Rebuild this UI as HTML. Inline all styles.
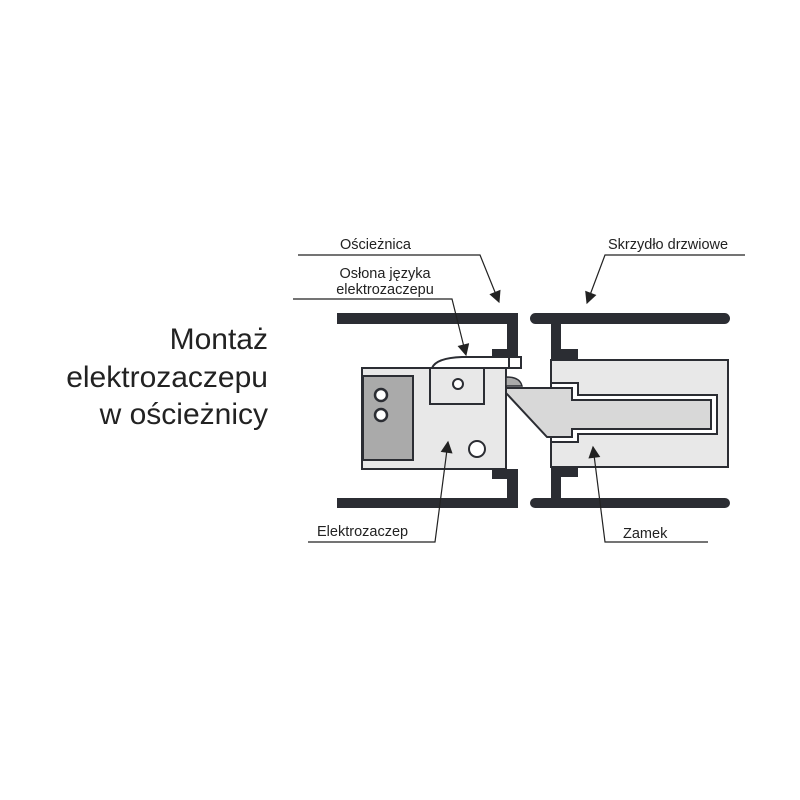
<!DOCTYPE html>
<html><head><meta charset="utf-8"><style>
html,body{margin:0;padding:0;background:#fff;width:800px;height:800px;overflow:hidden}
text{font-family:"Liberation Sans",sans-serif;fill:#222}
</style></head><body>
<svg width="800" height="800" viewBox="0 0 800 800" xmlns="http://www.w3.org/2000/svg">
<defs>
<marker id="b" viewBox="0 0 10 10" refX="9" refY="5" markerWidth="14" markerHeight="12" orient="auto" markerUnits="userSpaceOnUse"><path d="M0,0 L10,5 L0,10 z" fill="#222"/></marker></defs>
<g font-size="30" text-anchor="end" style="fill:#333">
<text x="268" y="349">Montaż</text>
<text x="268" y="387">elektrozaczepu</text>
<text x="268" y="424">w ościeżnicy</text>
</g>
<g font-size="14.5">
<text x="340" y="249">Ościeżnica</text>
<text x="608" y="249">Skrzydło drzwiowe</text>
<text x="385" y="278" text-anchor="middle">Osłona języka</text>
<text x="385" y="294" text-anchor="middle">elektrozaczepu</text>
<text x="317" y="536">Elektrozaczep</text>
<text x="623" y="538">Zamek</text>
</g>
<g fill="#2b2d33">
<rect x="337" y="313" width="181" height="11"/>
<rect x="507" y="313" width="11" height="46"/>
<rect x="492" y="349" width="15" height="9"/>
<rect x="337" y="498" width="181" height="10"/>
<rect x="507" y="469" width="11" height="39"/>
<rect x="492" y="469" width="15" height="10"/>
</g>
<path d="M432,368 Q436,358 462,357 L521,357 L521,368 Z" fill="#fff" stroke="#2b2d33" stroke-width="2"/>
<line x1="509" y1="357" x2="509" y2="368" stroke="#2b2d33" stroke-width="2"/>
<rect x="362" y="368" width="144" height="101" fill="#e8e8e8" stroke="#2b2d33" stroke-width="2"/>
<rect x="363" y="376" width="50" height="84" fill="#aaa" stroke="#2b2d33" stroke-width="2"/>
<circle cx="381" cy="395" r="6" fill="#fff" stroke="#2b2d33" stroke-width="2.5"/>
<circle cx="381" cy="415" r="6" fill="#fff" stroke="#2b2d33" stroke-width="2.5"/>
<rect x="430" y="368" width="54" height="36" fill="#e8e8e8" stroke="#2b2d33" stroke-width="2"/>
<circle cx="458" cy="384" r="5" fill="#fff" stroke="#2b2d33" stroke-width="2"/>
<circle cx="477" cy="449" r="8" fill="#fff" stroke="#2b2d33" stroke-width="2"/>
<path d="M506,386 L506,377 Q520,377 522,386 Z" fill="#aaa" stroke="#2b2d33" stroke-width="1.5"/>
<g fill="#2b2d33">
<rect x="530" y="313" width="200" height="11" rx="5.5"/>
<rect x="551" y="313" width="10" height="48"/>
<rect x="561" y="349" width="17" height="11"/>
<rect x="530" y="498" width="200" height="10" rx="5"/>
<rect x="551" y="466" width="10" height="40"/>
<rect x="561" y="466" width="17" height="11"/>
</g>
<rect x="551" y="360" width="177" height="107" fill="#e8e8e8" stroke="#2b2d33" stroke-width="2"/>
<path d="M551,383 L578,383 L578,395 L717,395 L717,434 L578,434 L578,442 L551,442 Z" fill="#fff" stroke="#2b2d33" stroke-width="2"/>
<path d="M506,388 L572,388 L572,400 L711,400 L711,429 L572,429 L572,437 L547,437 L506,393 Z" fill="#d8d8d8" stroke="#2b2d33" stroke-width="2"/>
<g stroke="#222" stroke-width="1.2" fill="none">
<polyline points="298,255 480,255 499,302" marker-end="url(#b)"/>
<polyline points="745,255 605,255 587,303" marker-end="url(#b)"/>
<polyline points="293,299 452,299 466,355" marker-end="url(#b)"/>
<polyline points="308,542 435,542 448,442" marker-end="url(#b)"/>
<polyline points="708,542 605,542 593,447" marker-end="url(#b)"/>
</g>
</svg>
</body></html>
